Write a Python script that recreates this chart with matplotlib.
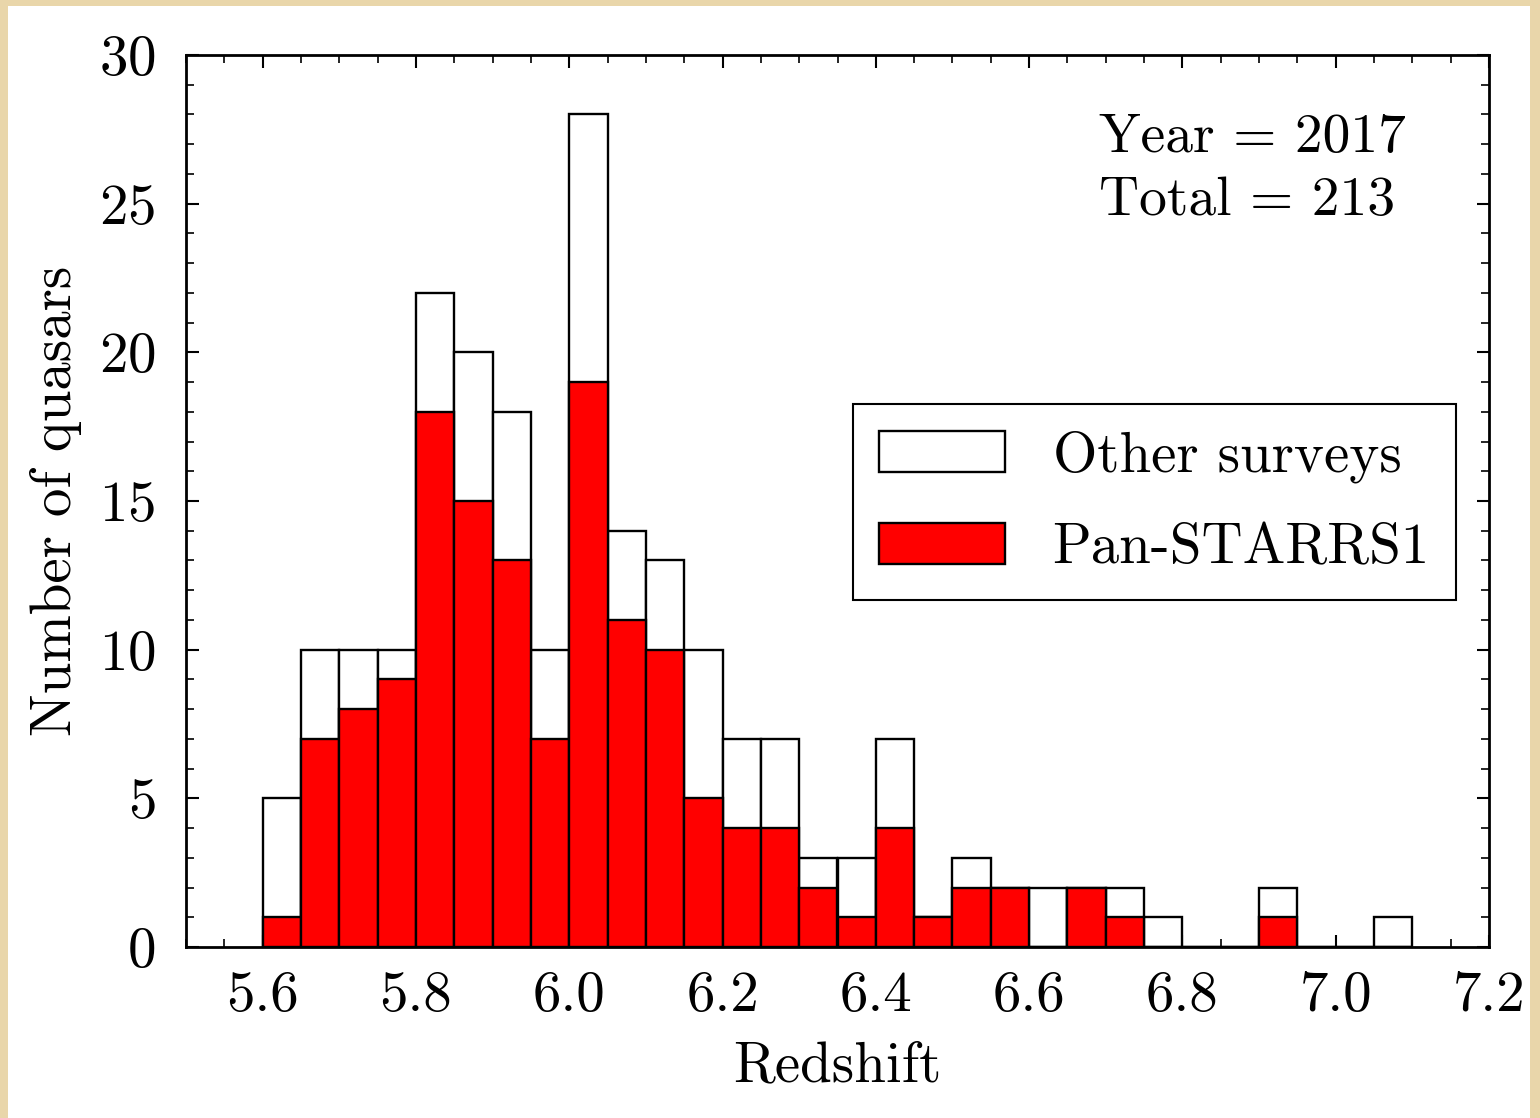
import numpy as np
import matplotlib
matplotlib.use("Agg")
import matplotlib.pyplot as plt
from matplotlib.patches import Rectangle
from matplotlib.ticker import MultipleLocator

plt.rcParams['font.family'] = 'cmr10'
plt.rcParams['axes.formatter.use_mathtext'] = True

# histogram bins (left edges, width 0.05) and counts per bin
bin_left = np.round(np.arange(5.60, 7.10, 0.05), 2)
total_counts = [5, 10, 10, 10, 22, 20, 18, 10, 28, 14, 13, 10, 7, 7, 3,
                3, 7, 1, 3, 2, 2, 2, 2, 1, 0, 0, 2, 0, 0, 1]
ps1_counts = [1, 7, 8, 9, 18, 15, 13, 7, 19, 11, 10, 5, 4, 4, 2,
              1, 4, 1, 2, 2, 0, 2, 1, 0, 0, 0, 1, 0, 0, 0]
bin_width = 0.05
year = 2017
fs = 41

fig = plt.figure(figsize=(15.4, 11.18), dpi=100, facecolor='#e9d6aa')
# white card on the parchment background
fig.patches.append(Rectangle((8 / 1540, 0), (1530 - 8) / 1540, (1118 - 6) / 1118,
                             transform=fig.transFigure, facecolor='white',
                             edgecolor='none', zorder=-10))

ax = fig.add_axes([186 / 1540, 171 / 1118, 1303 / 1540, 892 / 1118])

ax.bar(bin_left, total_counts, width=bin_width, align='edge', color='white',
       edgecolor='black', linewidth=1.7, label='Other surveys', zorder=2)
ax.bar(bin_left, ps1_counts, width=bin_width, align='edge', color='red',
       edgecolor='black', linewidth=1.7, label='Pan-STARRS1', zorder=3)

ax.set_xlim(5.5, 7.2)
ax.set_ylim(0, 30)
ax.xaxis.set_major_locator(MultipleLocator(0.2))
ax.xaxis.set_minor_locator(MultipleLocator(0.05))
ax.yaxis.set_major_locator(MultipleLocator(5))
ax.yaxis.set_minor_locator(MultipleLocator(1))
ax.xaxis.set_major_formatter(matplotlib.ticker.FormatStrFormatter('%.1f'))
ax.tick_params(which='both', direction='in', top=True, right=True,
               labelsize=fs)
ax.tick_params(axis='x', which='both', pad=17)
ax.tick_params(axis='y', which='both', pad=22)
ax.tick_params(which='major', length=9, width=1.5)
ax.tick_params(which='minor', length=6, width=1.2)
for s in ax.spines.values():
    s.set_linewidth(2)

ax.set_xlabel('Redshift', fontsize=fs, labelpad=14)
ax.set_ylabel('Number of quasars', fontsize=fs, labelpad=12)

ax.text(0.701, 0.891, 'Year = %d' % year, transform=ax.transAxes,
        fontsize=40, ha='left', va='baseline')
ax.text(0.701, 0.821, 'Total = %d' % sum(total_counts), transform=ax.transAxes,
        fontsize=40, ha='left', va='baseline')

handles, labels = ax.get_legend_handles_labels()
leg = ax.legend(handles, labels, loc='upper right', bbox_to_anchor=(0.9747, 0.6087),
                borderaxespad=0, fontsize=fs, frameon=True, fancybox=False,
                framealpha=1, edgecolor='black', handlelength=2.2,
                handleheight=0.74, handletextpad=0.84, labelspacing=0.7,
                borderpad=0.46)
leg.get_frame().set_linewidth(1.5)

fig.savefig('out.png', dpi=100, facecolor=fig.get_facecolor())
